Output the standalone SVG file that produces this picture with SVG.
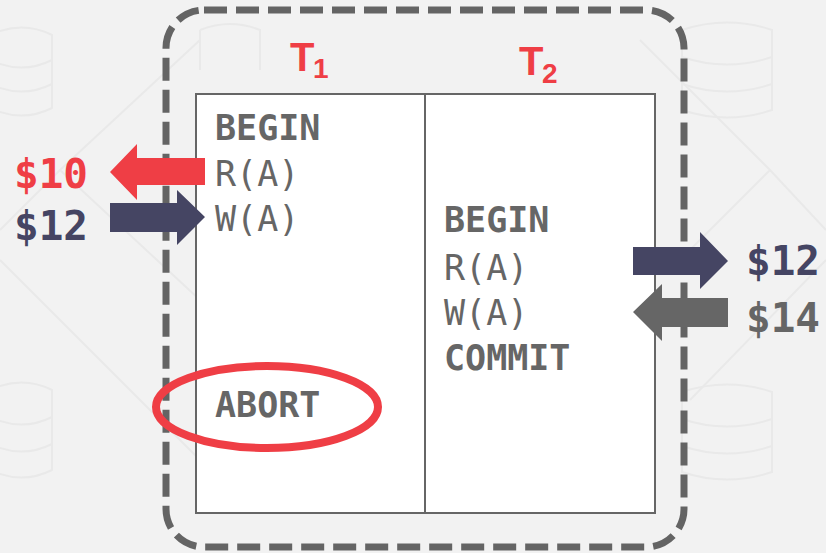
<svg xmlns="http://www.w3.org/2000/svg" width="826" height="553" viewBox="0 0 826 553">
  <defs>
    <style>
      .bgdeco { fill: none; stroke: #e9e9e9; stroke-width: 2; }
      .frame { fill: none; stroke: #646464; stroke-width: 7; stroke-dasharray: 23 9; }
      .table { fill: #ffffff; stroke: #666666; stroke-width: 2; }
      .op { font-family: "DejaVu Sans Mono", "Liberation Mono", monospace; font-size: 35px; fill: #666666; }
      .kw { font-weight: bold; }
      .rd { font-weight: normal; }
      .money { font-family: "DejaVu Sans Mono", "Liberation Mono", monospace; font-size: 41px; font-weight: bold; }
      .tx { font-family: "Liberation Sans", Arial, sans-serif; font-weight: bold; fill: #ef3e45; }
      .red { fill: #ef3e45; }
      .navy { fill: #454563; }
      .gray { fill: #666666; }
    </style>
  </defs>

  <!-- page background with faint decorative storage icons -->
  <rect width="826" height="553" fill="#f2f2f2"/>
  <g id="background">
    <g class="bgdeco">
      <path d="M-10,35 Q22,20 52,35 L52,108 Q22,123 -10,108 Z M-10,60 Q22,75 52,60 M-10,84 Q22,99 52,84"/>
      <path d="M-10,390 Q22,375 52,390 L52,470 Q22,485 -10,470 Z M-10,417 Q22,432 52,417 M-10,444 Q22,459 52,444"/>
      <path d="M682,30 Q727,15 772,30 L772,110 Q727,125 682,110 Z M682,57 Q727,72 772,57 M682,84 Q727,99 772,84"/>
      <path d="M682,392 Q727,377 772,392 L772,472 Q727,487 682,472 Z M682,419 Q727,434 772,419 M682,446 Q727,461 772,446"/>
      <path d="M200,30 Q230,18 260,30 L260,70 M200,30 L200,70"/>
    </g>
    <g class="bgdeco" stroke-width="1.2">
      <path d="M0,230 L60,170 L200,40 M60,170 L200,300 M0,260 L200,460"/>
      <path d="M826,230 L770,170 L640,40 M770,170 L690,250 M826,260 L690,400"/>
    </g>
  </g>

  <!-- dashed grouping frame -->
  <g id="frame">
    <rect class="frame" x="166" y="10" width="518" height="537" rx="38" ry="38"/>
  </g>

  <!-- schedule table with two transaction columns -->
  <g id="schedule">
    <rect class="table" x="196" y="94" width="459" height="419"/>
    <line x1="425" y1="94" x2="425" y2="513" stroke="#666666" stroke-width="2"/>
  </g>

  <g id="t1-header">
    <text class="tx" x="290" y="71" font-size="40">T</text>
    <text class="tx" x="313" y="78" font-size="28">1</text>
  </g>
  <g id="t2-header">
    <text class="tx" x="519" y="75" font-size="40">T</text>
    <text class="tx" x="542" y="83" font-size="28">2</text>
  </g>

  <g id="t1-ops">
    <text class="op kw" x="215" y="140">BEGIN</text>
    <text class="op rd" x="215" y="186">R(A)</text>
    <text class="op rd" x="215" y="231">W(A)</text>
    <text class="op kw" x="215" y="417">ABORT</text>
  </g>

  <g id="t2-ops">
    <text class="op kw" x="444" y="232">BEGIN</text>
    <text class="op rd" x="444" y="280">R(A)</text>
    <text class="op rd" x="444" y="325">W(A)</text>
    <text class="op kw" x="444" y="370">COMMIT</text>
  </g>

  <!-- highlight around the abort -->
  <g id="abort-mark">
    <ellipse cx="267" cy="407" rx="111" ry="41" fill="none" stroke="#ef3e45" stroke-width="8"/>
  </g>

  <!-- value flow arrows -->
  <g id="connectors">
    <polygon class="red" points="205,158 137,158 137,144 110,172 137,200 137,185 205,185"/>
    <polygon class="navy" points="110,203 177,203 177,190 205,217 177,245 177,232 110,232"/>
    <polygon class="navy" points="633,247 700,247 700,232 728,261 700,289 700,275 633,275"/>
    <polygon class="gray" points="728,298 662,298 662,284 633,312 662,341 662,327 728,327"/>
  </g>

  <g id="value-labels">
    <text class="money red" x="14" y="188">$10</text>
    <text class="money navy" x="14" y="240">$12</text>
    <text class="money navy" x="746" y="275">$12</text>
    <text class="money gray" x="746" y="332">$14</text>
  </g>
</svg>
